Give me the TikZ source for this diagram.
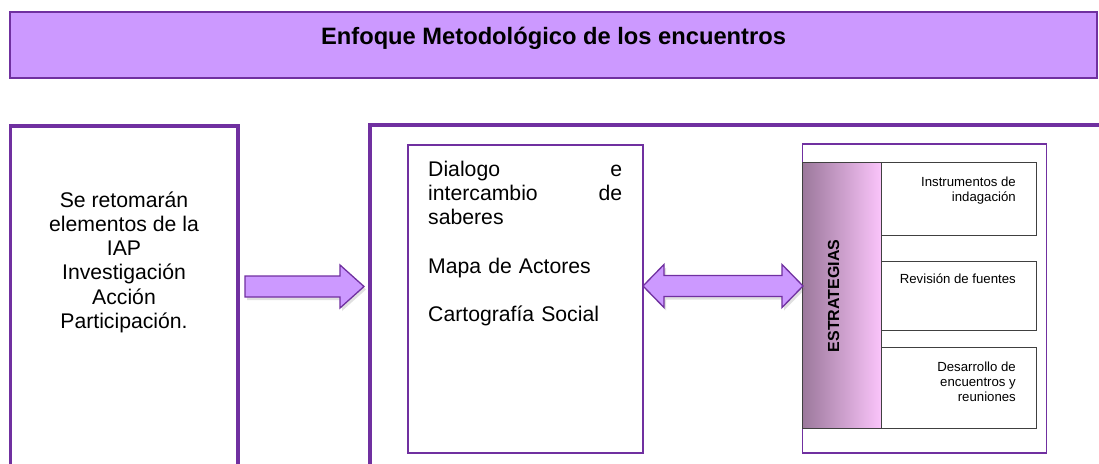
\documentclass[tikz,border=0pt]{standalone}
\usepackage{fontspec}
\setmainfont{Liberation Sans}
\usetikzlibrary{calc,shadows}
\definecolor{purp}{HTML}{7030A0}
\definecolor{lav}{HTML}{CC99FF}
\definecolor{barL}{RGB}{155,120,155}
\definecolor{barR}{RGB}{250,196,250}
\definecolor{itemline}{HTML}{404040}
\begin{document}
\begin{tikzpicture}[x=1pt,y=-1pt,
  box/.style={draw=purp,rectangle,anchor=north west,inner sep=0pt,outer sep=0pt,fill=white},
  bigtext/.style={font=\fontsize{21.2}{24.3}\selectfont,inner sep=0pt},
  itembox/.style={draw=itemline,line width=0.8pt,rectangle,anchor=north west,inner sep=0pt,outer sep=0pt,fill=white},
  itemtext/.style={font=\fontsize{13.2}{15}\selectfont,align=right,inner sep=0pt,anchor=base east},
  arrowstyle/.style={draw=purp,fill=lav,line width=1.3pt,line join=miter,
     drop shadow={shadow xshift=2pt,shadow yshift=-3pt,opacity=0.2,fill=black!60}},
  blockarrow/.style={arrowstyle,to path={let \p1=(\tikztostart), \p2=(\tikztotarget) in
     (\x1,\y1+10.5pt) -- (\x2-24pt,\y1+10.5pt) -- (\x2-24pt,\y1+21.5pt) -- (\x2,\y1)
     -- (\x2-24pt,\y1-21.5pt) -- (\x2-24pt,\y1-10.5pt) -- (\x1,\y1-10.5pt) -- cycle}},
  dblarrow/.style={arrowstyle,to path={let \p1=(\tikztostart), \p2=(\tikztotarget) in
     (\x1,\y1) -- (\x1+21pt,\y1+21.5pt) -- (\x1+21pt,\y1+10.5pt) -- (\x2-21pt,\y1+10.5pt)
     -- (\x2-21pt,\y1+21.5pt) -- (\x2,\y1) -- (\x2-21pt,\y1-21.5pt) -- (\x2-21pt,\y1-10.5pt)
     -- (\x1+21pt,\y1-10.5pt) -- (\x1+21pt,\y1-21.5pt) -- cycle}}
]
\useasboundingbox (0,0) rectangle (1099,463);
\clip (0,0) rectangle (1099,463);

% title
\node[draw=purp,line width=1.2pt,fill=lav,rectangle,minimum width=1087pt,minimum height=66pt,
      inner sep=0pt,text height=16pt,text depth=18pt,
      font=\bfseries\fontsize{23.7}{26}\selectfont] (title) at (553.5,45)
      {Enfoque Metodológico de los encuentros};

% left box
\node[box,line width=3.5pt,minimum width=227.5pt,minimum height=360pt] (leftbox) at (10.5,126) {};
\node[bigtext,align=center,anchor=base] (lefttext) at (124,328.5)
  {Se retomarán\\elementos de la\\IAP\\Investigación\\Acción\\Participación.};

% big right box
\node[box,line width=3.5pt,minimum width=760pt,minimum height=360pt] (bigbox) at (370,125) {};

% middle box
\node[box,line width=2pt,minimum width=235pt,minimum height=308pt] (midbox) at (407.5,144.5) {};
\node[bigtext,text width=194pt,align=left,anchor=base west] (midtext) at (428,176)
  {Dialogo\hfill e\\intercambio\hfill de\\saberes\\[24.3pt]Mapa de Actores\\[24.3pt]Cartografía Social};

% strategies frame
\node[box,line width=1.3pt,minimum width=244pt,minimum height=309pt] (stratframe) at (802.5,144) {};
\node[rectangle,anchor=north west,inner sep=0pt,outer sep=0pt,draw=itemline,line width=0.8pt,
      left color=barL,right color=barR,minimum width=79pt,minimum height=266pt] (bar) at (802,162) {};
\node[font=\bfseries\fontsize{16}{18}\selectfont,rotate=90,inner sep=0pt] (bartext) at (833.5,296) {ESTRATEGIAS};

\node[itembox,minimum width=155pt,minimum height=73pt] (i1) at (881,162) {};
\node[itembox,minimum width=155pt,minimum height=69pt] (i2) at (881,261) {};
\node[itembox,minimum width=155pt,minimum height=81pt] (i3) at (881,347) {};
\node[itemtext] (t1) at (1016,201) {Instrumentos de\\indagación};
\node[itemtext] (t2) at (1016,283.3) {Revisión de fuentes};
\node[itemtext] (t3) at (1016,401) {Desarrollo de\\encuentros y\\reuniones};

% arrows
\path[blockarrow] ($(leftbox.east |- 0,286.5)+(7,0)$) to ($(bigbox.west |- 0,286.5)+(-6,0)$);
\path[dblarrow] ($(midbox.east |- 0,286)+(0.5,0)$) to ($(stratframe.west |- 0,286)+(0.5,0)$);
\end{tikzpicture}
\end{document}
